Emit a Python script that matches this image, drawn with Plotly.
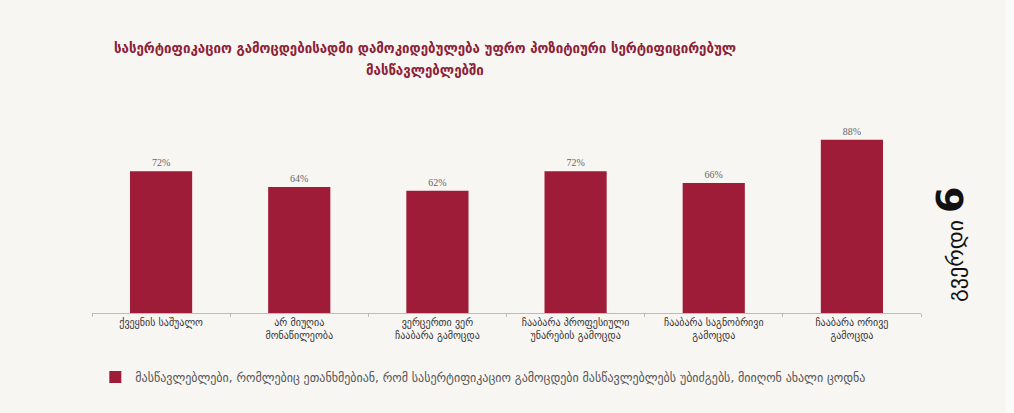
import plotly.graph_objects as go

categories = [
    "ქვეყნის საშუალო",
    "არ მიუღია<br>მონაწილეობა",
    "ვერცერთი ვერ<br>ჩააბარა გამოცდა",
    "ჩააბარა პროფესიული<br>უნარების გამოცდა",
    "ჩააბარა საგნობრივი<br>გამოცდა",
    "ჩააბარა ორივე<br>გამოცდა",
]
values = [72, 64, 62, 72, 66, 88]
value_labels = ["72%", "64%", "62%", "72%", "66%", "88%"]
series_name = "მასწავლებლები, რომლებიც ეთანხმებიან, რომ სასერტიფიკაციო გამოცდები მასწავლებლებს უბიძგებს, მიიღონ ახალი ცოდნა"
title_lines = [
    "სასერტიფიკაციო გამოცდებისადმი დამოკიდებულება უფრო პოზიტიური სერტიფიცირებულ",
    "მასწავლებლებში",
]
page_word = "გვერდი"
page_number = "6"

fig = go.Figure()
fig.add_trace(go.Bar(
    x=categories, y=values, name=series_name,
    marker=dict(color="#9e1c38", line=dict(width=0)),
    text=value_labels, textposition="outside", cliponaxis=False,
    textfont=dict(family="Liberation Serif", size=10, color="#666666"),
    showlegend=True,
))

annotations = []
for i, line in enumerate(title_lines):
    annotations.append(dict(
        text="<b>" + line + "</b>", x=0.402, y=1.345 - i * 0.112,
        xref="paper", yref="paper", xanchor="center", yanchor="middle",
        showarrow=False,
        font=dict(family="DejaVu Sans", size=13.3, color="#8b2035")))
annotations.append(dict(
    text=page_word + " <b><span style='font-size:38px'>" + page_number + "</span></b>",
    x=1.035, y=0.35, xref="paper", yref="paper",
    xanchor="center", yanchor="middle", showarrow=False, textangle=-90,
    font=dict(family="DejaVu Sans", size=22, color="#111111")))

fig.update_layout(
    width=1014, height=413,
    paper_bgcolor="#f8f6f3", plot_bgcolor="#f8f6f3",
    margin=dict(l=92, r=93, t=116, b=100),
    bargap=0.55,
    showlegend=True,
    legend=dict(orientation="h", x=0.004, y=-0.325, xanchor="left", yanchor="middle",
                font=dict(family="DejaVu Sans", size=12, color="#555555"),
                bgcolor="rgba(0,0,0,0)", itemwidth=30),
    annotations=annotations,
    shapes=[dict(type="rect", xref="paper", yref="paper", x0=1.102, x1=1.2, y0=-1, y1=2,
                 fillcolor="#fcfbf9", line=dict(width=0), layer="below")],
)
fig.update_xaxes(
    showline=True, linecolor="#bbbbbb", linewidth=1,
    ticks="outside", ticklen=3, tickcolor="#bbbbbb", tickson="boundaries",
    tickfont=dict(family="DejaVu Sans", size=10, color="#333333"),
    showgrid=False,
)
fig.update_yaxes(range=[0, 100], visible=False, showgrid=False, zeroline=False)

fig.write_html("out.html", config={"displayModeBar": False},
               post_script="document.body.style.margin='0';document.body.style.background='#f8f6f3';")
